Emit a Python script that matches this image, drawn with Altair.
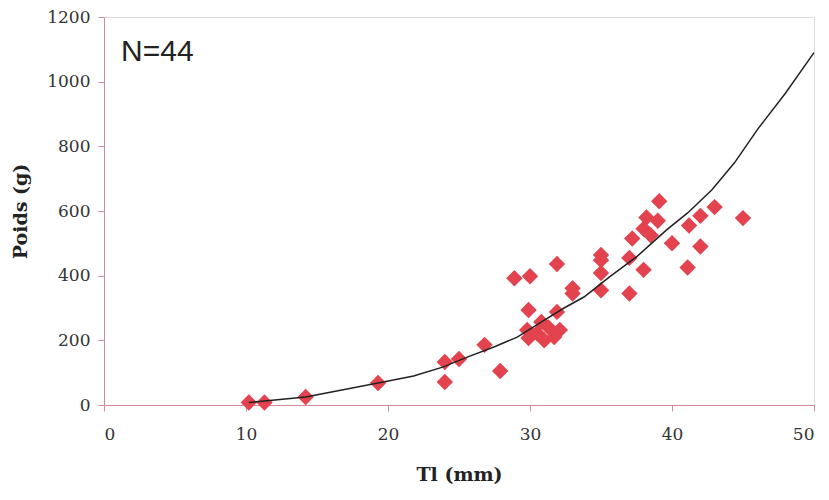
import altair as alt
import pandas as pd

# Scatter data: total length (mm) vs weight (g)
tl = [10.2, 11.3, 14.2, 19.3,
      24.0, 24.0, 25.0, 26.8, 27.9,
      28.9, 30.0, 31.9, 29.9, 33.0, 33.0, 31.9,
      29.8, 29.9, 30.5, 30.8, 31.0, 31.3, 31.7, 32.1,
      35.0, 35.0, 35.0, 35.0,
      37.0, 37.0, 37.2,
      38.0, 38.0, 38.2, 38.5,
      39.1, 39.0,
      40.0, 41.1, 41.2, 42.0, 42.0, 43.0, 45.0]
poids = [8, 8, 25, 68,
         133, 71, 142, 186, 105,
         392, 398, 436, 294, 361, 345, 288,
         232, 207, 222, 257, 200, 240, 210, 232,
         464, 448, 408, 355,
         455, 345, 515,
         418, 545, 580, 525,
         630, 570,
         500, 425, 555, 585, 490, 612, 578]

# Fitted curve
curve_x = [10.2, 11.3, 14.2, 19.3, 21.8, 23.9, 25.4, 27.5, 29.1, 30.7, 32.4,
           33.8, 35.6, 37.5, 39.6, 41.1, 42.8, 44.4, 46.0, 48.0, 50.0]
curve_y = [8, 12, 25, 68, 90, 118, 145, 180, 210, 254, 300,
           334, 396, 458, 541, 594, 665, 749, 851, 965, 1090]

label_text = ["N=44"]
label_x = [1.2]
label_y = [1064]

pts = pd.DataFrame({"tl": tl, "poids": poids})
crv = pd.DataFrame({"tl": curve_x, "poids": curve_y})
lab = pd.DataFrame({"tl": label_x, "poids": label_y, "t": label_text})

axis_color = "#d08a9a"
serif = "DejaVu Serif"

xs = alt.Scale(domain=[0, 50], nice=False, zero=True)
ys = alt.Scale(domain=[0, 1200], nice=False)

xenc = alt.X("tl:Q", scale=xs, title="Tl (mm)",
             axis=alt.Axis(values=[0, 10, 20, 30, 40, 50], grid=False, format="d",
                           domainColor=axis_color, tickColor=axis_color,
                           tickSize=6, labelPadding=15, labelFont=serif,
                           labelFontSize=17, labelColor="#333333",
                           titleFont=serif, titleFontSize=19, titleFontWeight="bold",
                           titleColor="#222222", titlePadding=23))
yenc = alt.Y("poids:Q", scale=ys, title="Poids (g)",
             axis=alt.Axis(values=[0, 200, 400, 600, 800, 1000, 1200], grid=False, format="d",
                           domainColor=axis_color, tickColor=axis_color,
                           tickSize=6, labelPadding=8, labelFont=serif,
                           labelFontSize=17, labelColor="#333333",
                           titleFont=serif, titleFontSize=19, titleFontWeight="bold",
                           titleColor="#222222", titlePadding=16))

points = alt.Chart(pts).mark_point(shape="diamond", filled=True, size=270,
                                   color="#e2434f", opacity=1).encode(x=xenc, y=yenc)

line = alt.Chart(crv).mark_line(color="#222222", strokeWidth=1.5).encode(
    x=alt.X("tl:Q", scale=xs), y=alt.Y("poids:Q", scale=ys))

text = alt.Chart(lab).mark_text(align="left", baseline="alphabetic",
                                font="Liberation Sans", fontSize=30, fontWeight=500,
                                color="#222222").encode(
    x=alt.X("tl:Q", scale=xs), y=alt.Y("poids:Q", scale=ys), text="t:N")

chart = alt.layer(points, line, text).properties(
    width=710, height=388,
    autosize=alt.AutoSizeParams(type="none"),
    padding={"left": 96, "top": 9, "right": 5, "bottom": 86},
).configure_view(stroke=None).configure(background="white")

chart.save("out.html", embed_options={"renderer": "svg", "actions": False})
